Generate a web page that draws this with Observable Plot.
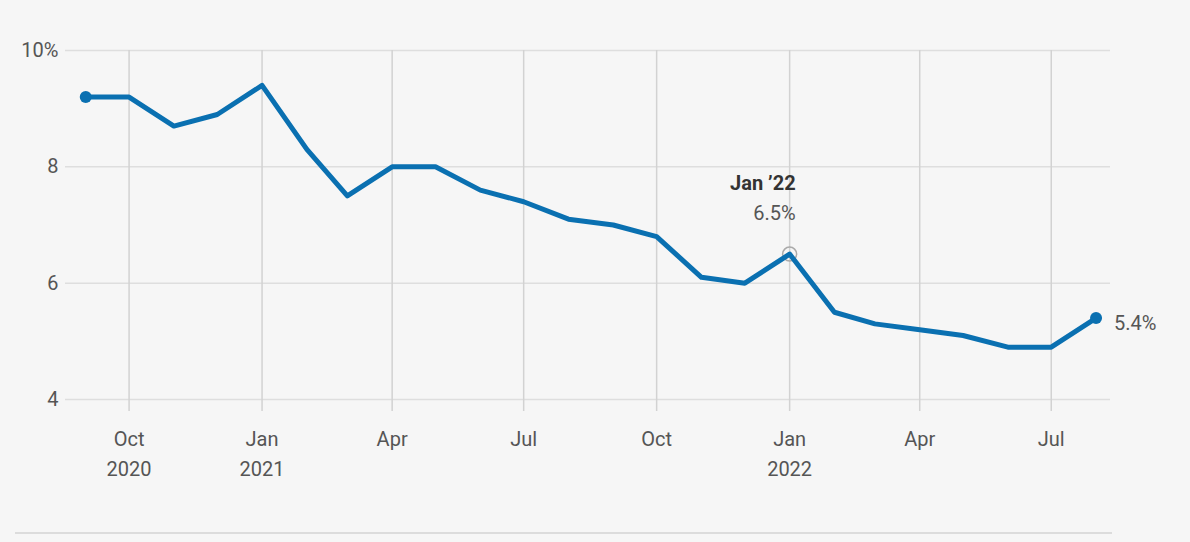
<!DOCTYPE html>
<html><head><meta charset="utf-8">
<script src="https://cdn.jsdelivr.net/npm/d3@7"></script>
<script src="https://cdn.jsdelivr.net/npm/@observablehq/plot@0.6"></script>
<style>
body{margin:0;background:#f6f6f6;font-family:Roboto,sans-serif;}
#wrap{position:relative;width:1190px;height:542px;}
#rule{position:absolute;left:15px;top:532px;width:1097px;height:2px;background:#dcdcdc;}
</style></head><body><div id="wrap"><div id="chart"></div><div id="rule"></div></div>
<script>
const months = ["2020-09","2020-10","2020-11","2020-12","2021-01","2021-02","2021-03","2021-04","2021-05","2021-06","2021-07","2021-08","2021-09","2021-10","2021-11","2021-12","2022-01","2022-02","2022-03","2022-04","2022-05","2022-06","2022-07","2022-08"];
const rates = [9.2,9.2,8.7,8.9,9.4,8.3,7.5,8.0,8.0,7.6,7.4,7.1,7.0,6.8,6.1,6.0,6.5,5.5,5.3,5.2,5.1,4.9,4.9,5.4];
const xTickMonths = ["2020-10","2021-01","2021-04","2021-07","2021-10","2022-01","2022-04","2022-07"];
const xTickLabels = ["Oct\n2020","Jan\n2021","Apr","Jul","Oct","Jan\n2022","Apr","Jul"];
const yTicks = [4,6,8,10];
const yTickLabels = ["4","6","8","10%"];
const annotationMonth = "2022-01";
const annotationTitle = "Jan \u201922";

const parse = d3.utcParse("%Y-%m");
const data = months.map((m,i)=>({date:parse(m), value:rates[i]}));
const first = data[0], last = data[data.length-1];
const ann = data.find(d => +d.date === +parse(annotationMonth));
const xTicks = xTickMonths.map(parse);
const xLabelMap = new Map(xTicks.map((d,i)=>[+d, xTickLabels[i]]));
const yLabelMap = new Map(yTicks.map((d,i)=>[d, yTickLabels[i]]));
const blue = "#0a70b1";

const chart = Plot.plot({
  width:1190, height:542,
  marginLeft:65, marginRight:80, marginTop:50, marginBottom:143,
  style:{background:"transparent", fontFamily:"Roboto, sans-serif", fontSize:"19px", color:"#555", overflow:"visible"},
  x:{type:"utc", domain:[d3.utcDay.offset(first.date,-14), d3.utcDay.offset(last.date,10)]},
  y:{domain:[4,10]},
  marks:[
    Plot.gridY(yTicks, {stroke:"#dedede", strokeOpacity:1, strokeWidth:1.5}),
    Plot.gridX(xTicks, {stroke:"#d2d2d2", strokeOpacity:1, strokeWidth:1.5}),
    Plot.axisX(xTicks, {tickSize:12, tickPadding:13, stroke:"#d2d2d2", strokeWidth:1.5, fill:"#555", fontSize:20, lineHeight:1.5, tickFormat:d=>xLabelMap.get(+d), label:null}),
    Plot.axisY(yTicks, {tickSize:0, tickPadding:7, fill:"#555", fontSize:20, tickFormat:d=>yLabelMap.get(d), label:null}),
    Plot.dot([ann], {x:"date", y:"value", r:7, stroke:"#aaa", fill:"none", strokeWidth:1.5}),
    Plot.line(data, {x:"date", y:"value", stroke:blue, strokeWidth:5, strokeLinejoin:"round"}),
    Plot.dot([first,last], {x:"date", y:"value", r:6, fill:blue}),
    Plot.text([last], {x:"date", y:"value", text:d=>d.value.toFixed(1)+"%", textAnchor:"start", dx:18, dy:6, fontSize:20, fill:"#555"}),
    Plot.text([ann], {x:"date", y:"value", text:()=>annotationTitle, textAnchor:"end", dx:6, dy:-70, fontSize:20, fontWeight:"bold", fill:"#333"}),
    Plot.text([ann], {x:"date", y:"value", text:d=>d.value.toFixed(1)+"%", textAnchor:"end", dx:6, dy:-40, fontSize:20, fill:"#555"})
  ]
});
document.getElementById("chart").append(chart);
</script></body></html>
